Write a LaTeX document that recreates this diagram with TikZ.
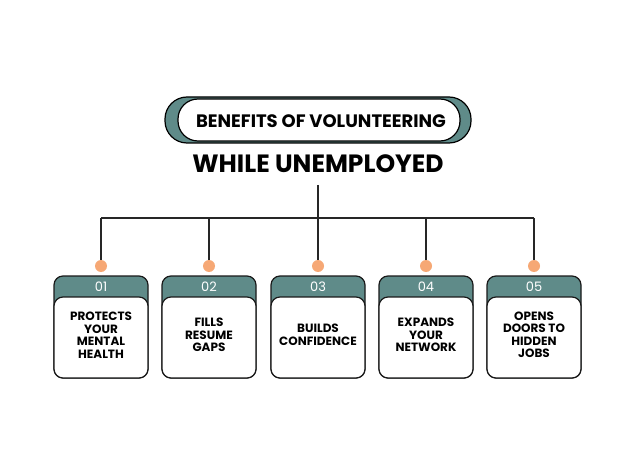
\documentclass[tikz,border=0pt]{standalone}
\usepackage{fontspec}
\setmainfont{Poppins}
\definecolor{teal1}{HTML}{5F8B89}
\definecolor{dot}{HTML}{F6A875}
\begin{document}
\begin{tikzpicture}[x=1pt,y=-1pt,
  line/.style={line width=1.2pt,black!85},
  card/.style={draw=black!90,line width=1.2pt,rounded corners=9pt},
  head/.style={font=\fontsize{13}{13}\selectfont,text=white},
  body/.style={font=\bfseries\fontsize{12}{12.5}\selectfont,align=center}]
\useasboundingbox[fill=white] (0,0) rectangle (635,476);
% title pill
\draw[fill=teal1,line width=1.2pt,rounded corners=22pt] (165,97) rectangle (471,143);
\draw[fill=white,line width=1.2pt,rounded corners=20pt] (178,99) rectangle (460,141);
\node[font=\bfseries\fontsize{18}{18}\selectfont] (t1) at (321,121) {BENEFITS OF VOLUNTEERING};
\node[font=\bfseries\fontsize{25}{25}\selectfont] (t2) at (318,164) {WHILE UNEMPLOYED};
\coordinate (top) at (318,185);
\coordinate (bus) at (318,218);
\draw[line] (top) -- (bus);
\draw[line] (101,218) -- (534,218);
\foreach \i/\x/\n/\t in {1/101/01/{PROTECTS\\YOUR\\MENTAL\\HEALTH},2/209/02/{FILLS\\RESUME\\GAPS},3/318/03/{BUILDS\\CONFIDENCE},4/426/04/{EXPANDS\\YOUR\\NETWORK},5/534/05/{OPENS\\DOORS TO\\HIDDEN\\JOBS}}{
  \coordinate (j\i) at (\x,218);
  \node[circle,fill=dot,minimum size=12pt,inner sep=0] (d\i) at (\x,266) {};
  \draw[line] (j\i) -- (d\i);
  \draw[card,fill=teal1] (\x-47,276) rectangle (\x+47,378);
  \draw[card,fill=white] (\x-47,297) rectangle (\x+47,378);
  \node[head] (h\i) at (\x,287) {\n};
  \node[body] (b\i) at (\x,335) {\t};
}
\end{tikzpicture}
\end{document}
